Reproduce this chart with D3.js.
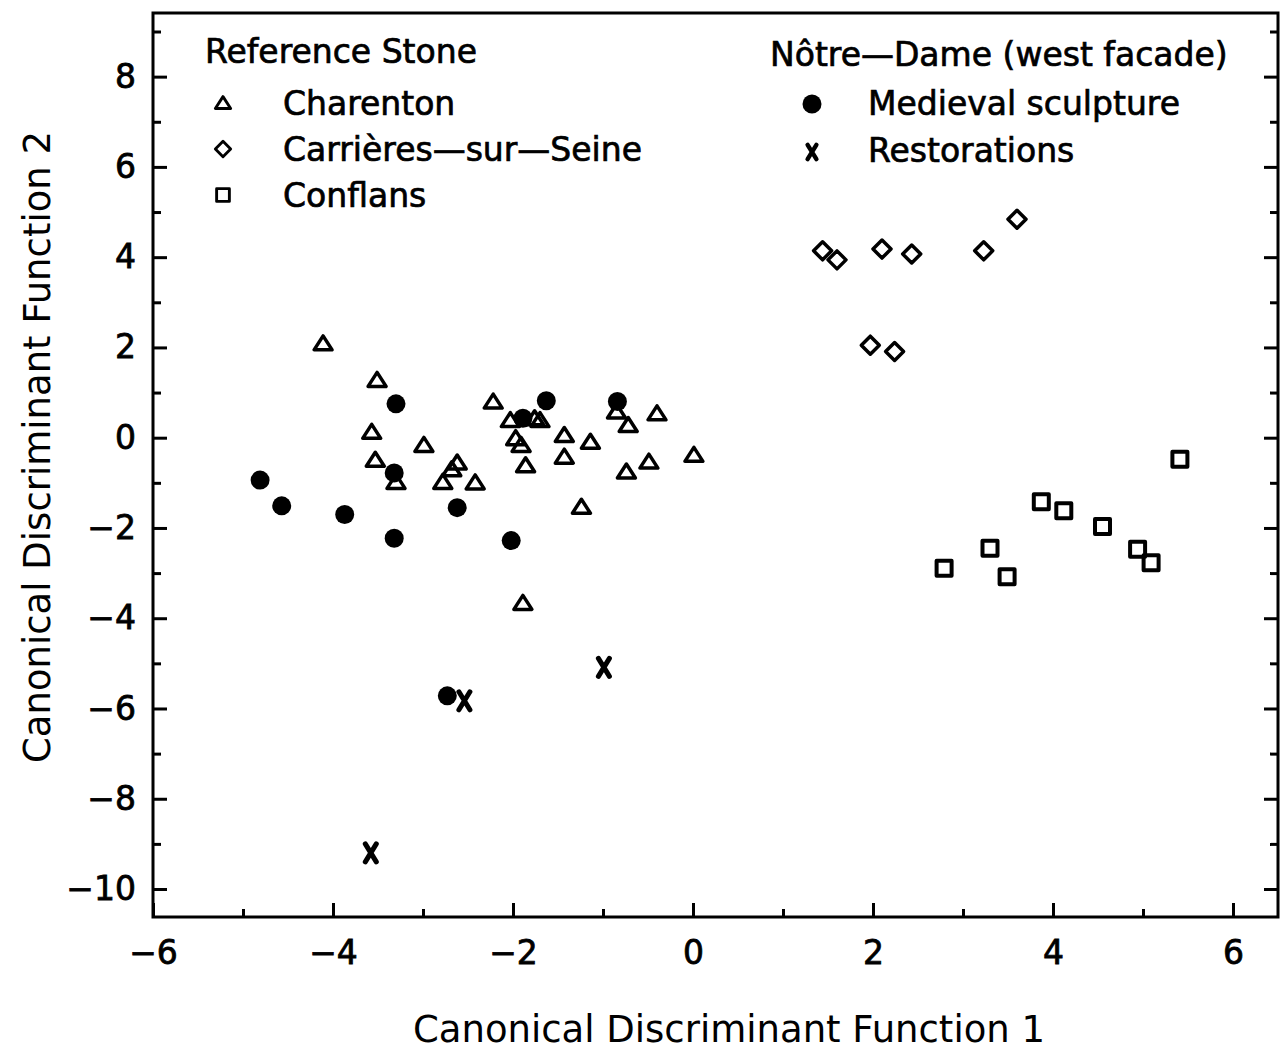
<!DOCTYPE html>
<html>
<head>
<meta charset="utf-8">
<script src="https://cdn.jsdelivr.net/npm/d3@7"></script>
<style>
  html, body { margin: 0; padding: 0; background: #fff; }
  svg { display: block; }
  text { font-family: "DejaVu Sans", sans-serif; fill: #000; }
</style>
</head>
<body>
<svg id="chart" width="1282" height="1054"></svg>
<script>
// ---- Data ----
const charenton = [
  [-4.11, 2.09], [-3.51, 1.28], [-2.22, 0.80], [-3.57, 0.13], [-2.99, -0.16],
  [-3.53, -0.49], [-3.30, -0.98], [-2.62, -0.55], [-2.68, -0.70], [-2.78, -0.98],
  [-2.42, -0.99], [-0.85, 0.58], [-0.40, 0.54], [-0.72, 0.28], [-2.03, 0.39],
  [-1.76, 0.43], [-1.70, 0.39], [-1.97, -0.01], [-1.91, -0.16], [-1.43, 0.06],
  [-1.14, -0.09], [-1.43, -0.42], [-1.86, -0.61], [-0.74, -0.75], [-0.49, -0.53],
  [0.01, -0.38], [-1.24, -1.53], [-1.89, -3.66]
];
const carrieres = [
  [1.44, 4.14], [1.60, 3.94], [2.10, 4.18], [2.43, 4.07], [3.23, 4.14],
  [3.60, 4.84], [1.97, 2.05], [2.24, 1.91]
];
const conflans = [
  [5.41, -0.48], [3.87, -1.42], [4.12, -1.62], [4.55, -1.97], [4.94, -2.47],
  [5.09, -2.77], [3.30, -2.45], [3.49, -3.08], [2.79, -2.89]
];
const medieval = [
  [-3.30, 0.75], [-3.32, -0.78], [-4.81, -0.94], [-4.57, -1.51], [-3.87, -1.70],
  [-2.62, -1.55], [-3.32, -2.23], [-1.63, 0.82], [-0.84, 0.80], [-1.89, 0.43],
  [-2.02, -2.28], [-2.73, -5.72]
];
const restorations = [
  [-0.99, -5.09], [-2.54, -5.83], [-3.58, -9.20]
];

const xMajorTicks = [-6, -4, -2, 0, 2, 4, 6];
const xMinorTicks = [-5, -3, -1, 1, 3, 5];
const yMajorTicks = [-10, -8, -6, -4, -2, 0, 2, 4, 6, 8];
const yMinorTicks = [-9, -7, -5, -3, -1, 1, 3, 5, 7, 9];

const xTitle = "Canonical Discriminant Function 1";
const yTitle = "Canonical Discriminant Function 2";
const legendLeftTitle = "Reference Stone";
const legendLeftItems = ["Charenton", "Carrières—sur—Seine", "Conflans"];
const legendRightTitle = "Nôtre—Dame (west facade)";
const legendRightItems = ["Medieval sculpture", "Restorations"];

// ---- Layout ----
const svg = d3.select("#chart");
const plot = { left: 153, right: 1278, top: 13, bottom: 917 };

const x = d3.scaleLinear().domain([-6, 6.5]).range([plot.left, plot.right]);
const y = d3.scaleLinear().domain([-10.62, 9.41]).range([plot.bottom, plot.top]);

const fmt = d => (d < 0 ? "\u2212" + Math.abs(d) : String(d));

function styleAxis(g) {
  g.select(".domain").remove();
  g.selectAll(".tick line").attr("stroke", "#000").attr("stroke-width", 3);
  g.selectAll(".tick text")
    .style("font-family", '"DejaVu Sans", sans-serif')
    .style("font-size", "33px")
    .attr("fill", "#000")
    .attr("stroke", "#000").attr("stroke-width", 0.8);
}

// Bottom axis
svg.append("g").attr("transform", `translate(0,${plot.bottom})`)
  .call(d3.axisBottom(x).tickValues(xMajorTicks).tickFormat(fmt)
    .tickSizeInner(-14).tickSizeOuter(0).tickPadding(24))
  .call(styleAxis);
svg.append("g").attr("transform", `translate(0,${plot.bottom})`)
  .call(d3.axisBottom(x).tickValues(xMinorTicks).tickFormat("")
    .tickSizeInner(-8).tickSizeOuter(0))
  .call(styleAxis);

// Left axis
svg.append("g").attr("transform", `translate(${plot.left},0)`)
  .call(d3.axisLeft(y).tickValues(yMajorTicks).tickFormat(fmt)
    .tickSizeInner(-14).tickSizeOuter(0).tickPadding(17))
  .call(styleAxis);
svg.append("g").attr("transform", `translate(${plot.left},0)`)
  .call(d3.axisLeft(y).tickValues(yMinorTicks).tickFormat("")
    .tickSizeInner(-8).tickSizeOuter(0))
  .call(styleAxis);

// Right axis (ticks only)
svg.append("g").attr("transform", `translate(${plot.right},0)`)
  .call(d3.axisRight(y).tickValues(yMajorTicks).tickFormat("")
    .tickSizeInner(-14).tickSizeOuter(0))
  .call(styleAxis);
svg.append("g").attr("transform", `translate(${plot.right},0)`)
  .call(d3.axisRight(y).tickValues(yMinorTicks).tickFormat("")
    .tickSizeInner(-8).tickSizeOuter(0))
  .call(styleAxis);

// Frame
svg.append("rect")
  .attr("x", plot.left).attr("y", plot.top)
  .attr("width", plot.right - plot.left).attr("height", plot.bottom - plot.top)
  .attr("fill", "none").attr("stroke", "#000").attr("stroke-width", 3);

// ---- Marker shapes ----
const shapes = {
  triangle: "M0,-7.5 L9,6.5 L-9,6.5 Z",
  diamond: "M0,-9 L9,0 L0,9 L-9,0 Z",
  square: "M-7.5,-7.5 H7.5 V7.5 H-7.5 Z",
  cross: "M-5.5,-9 L5.5,9 M5.5,-9 L-5.5,9"
};

function drawOutline(data, shape, sw) {
  svg.append("g").selectAll("path").data(data).enter().append("path")
    .attr("transform", d => `translate(${x(d[0])},${y(d[1])})`)
    .attr("d", shapes[shape])
    .attr("fill", "none").attr("stroke", "#000")
    .attr("stroke-width", sw).attr("stroke-linejoin", "round").attr("stroke-linecap", "round");
}

drawOutline(charenton, "triangle", 3.5);
drawOutline(carrieres, "diamond", 3.5);
drawOutline(conflans, "square", 4);
svg.append("g").selectAll("circle").data(medieval).enter().append("circle")
  .attr("cx", d => x(d[0])).attr("cy", d => y(d[1])).attr("r", 9.5).attr("fill", "#000");
drawOutline(restorations, "cross", 5);

// ---- Axis titles ----
svg.append("text")
  .attr("x", 729).attr("y", 1042)
  .attr("text-anchor", "middle")
  .style("font-size", "37px")
  .text(xTitle);
svg.append("text")
  .attr("transform", "translate(50,447) rotate(-90)")
  .attr("text-anchor", "middle")
  .style("font-size", "37px")
  .text(yTitle);

// ---- Legend ----
const legFont = "33px";
function legText(tx, ty, t) {
  svg.append("text").attr("x", tx).attr("y", ty)
    .style("font-size", legFont)
    .attr("stroke", "#000").attr("stroke-width", 0.7)
    .text(t);
}
legText(205, 63, legendLeftTitle);
const leftRows = [115, 161, 207];
const leftShapes = ["triangle", "diamond", "square"];
legendLeftItems.forEach((t, i) => {
  legText(283, leftRows[i], t);
  svg.append("path")
    .attr("transform", `translate(223,${leftRows[i] - 12}) scale(0.85)`)
    .attr("d", shapes[leftShapes[i]])
    .attr("fill", "none").attr("stroke", "#000").attr("stroke-width", 3.4)
    .attr("stroke-linejoin", "round");
});
legText(770, 66, legendRightTitle);
const rightRows = [115, 162];
legendRightItems.forEach((t, i) => legText(868, rightRows[i], t));
svg.append("circle").attr("cx", 812).attr("cy", rightRows[0] - 11).attr("r", 9.5).attr("fill", "#000");
svg.append("path")
  .attr("transform", `translate(812,${rightRows[1] - 10}) scale(0.8)`)
  .attr("d", shapes.cross)
  .attr("fill", "none").attr("stroke", "#000").attr("stroke-width", 5.5)
  .attr("stroke-linecap", "round");
</script>
</body>
</html>
